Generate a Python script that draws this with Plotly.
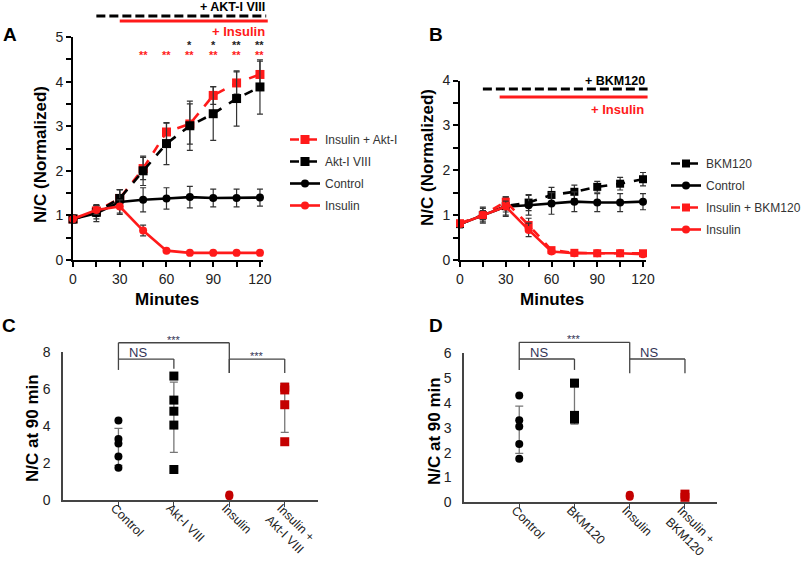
import plotly.graph_objects as go

W, H = 805, 561
FONT = "Liberation Sans, Arial, sans-serif"
RED = "#ff1a1a"
DRED = "#c40000"

# ---------------- data ----------------
minutes = [0, 15, 30, 45, 60, 75, 90, 105, 120]
x_tick_vals = [0, 15, 30, 45, 60, 75, 90, 105, 120]
x_tick_text = ["0", "", "30", "", "60", "", "90", "", "120"]

A_ins_akt = [0.92, 1.10, 1.38, 2.05, 2.87, 3.05, 3.69, 3.97, 4.16]
A_ins_akt_err = [0.08, 0.12, 0.20, 0.25, 0.20, 0.45, 0.20, 0.25, 0.30]
A_akt = [0.92, 1.07, 1.38, 2.00, 2.61, 3.01, 3.28, 3.62, 3.88]
A_akt_err = [0.08, 0.15, 0.20, 0.33, 0.47, 0.55, 0.60, 0.62, 0.61]
A_ctrl = [0.92, 1.05, 1.30, 1.35, 1.38, 1.41, 1.39, 1.39, 1.40]
A_ctrl_err = [0.08, 0.19, 0.28, 0.27, 0.24, 0.24, 0.20, 0.20, 0.19]
A_ins = [0.92, 1.12, 1.20, 0.66, 0.21, 0.16, 0.16, 0.16, 0.16]
A_ins_err = [0.08, 0.10, 0.15, 0.12, 0.03, 0.02, 0.02, 0.02, 0.02]
A_star_black = ["", "", "", "", "", "*", "*", "**", "**"]
A_star_red = ["", "", "", "**", "**", "**", "**", "**", "**"]

B_bkm = [0.80, 1.00, 1.20, 1.28, 1.45, 1.52, 1.63, 1.70, 1.80]
B_bkm_err = [0.08, 0.15, 0.20, 0.18, 0.17, 0.15, 0.12, 0.14, 0.15]
B_ctrl = [0.80, 1.00, 1.19, 1.22, 1.26, 1.30, 1.28, 1.28, 1.30]
B_ctrl_err = [0.08, 0.18, 0.22, 0.22, 0.24, 0.22, 0.20, 0.20, 0.18]
B_ins_bkm = [0.82, 1.00, 1.30, 0.78, 0.22, 0.16, 0.15, 0.15, 0.15]
B_ins_bkm_err = [0.05, 0.10, 0.10, 0.15, 0.05, 0.03, 0.03, 0.03, 0.03]
B_ins = [0.80, 1.00, 1.19, 0.67, 0.19, 0.15, 0.15, 0.15, 0.13]
B_ins_err = [0.05, 0.10, 0.12, 0.15, 0.04, 0.03, 0.03, 0.03, 0.03]

C_cats = ["Control", "Akt-I VIII", "Insulin", "Insulin +<br>Akt-I VIII"]
C_ctrl = [4.3, 3.3, 3.05, 2.35, 1.75]
C_akt = [6.7, 5.4, 4.8, 4.05, 1.65]
C_ins = [0.2, 0.3]
C_ins_akt = [6.1, 5.95, 5.15, 3.15]
C_mean = [2.87, 4.47, 0.25, 4.98]
C_sd = [1.00, 1.90, 0.0, 1.32]

D_cats = ["Control", "BKM120", "Insulin", "Insulin +<br>BKM120"]
D_ctrl = [4.3, 3.3, 3.05, 2.35, 1.75]
D_bkm = [4.8, 3.5, 3.35]
D_ins = [0.22, 0.3]
D_ins_bkm = [0.2, 0.33]
D_mean = [2.92, 3.90, 0.26, 0.26]
D_sd = [0.95, 0.75, 0.0, 0.0]

# brackets: (from cat, to cat, bar level, left leg end, right leg end, label)
C_brackets = [(0, 2, 8.5, 7.62, 6.86, "***"), (0, 1, 7.62, 7.03, 7.10, "NS"), (2, 3, 7.62, 6.86, 6.86, "***")]
D_brackets = [(0, 2, 6.44, 5.77, 5.77, "***"), (0, 1, 5.77, 5.33, 5.33, "NS"), (2, 3, 5.77, 5.20, 5.20, "NS")]

# ---------------- layout geometry ----------------
def xd(a, b):
    return [a / W, b / W]

def yd(top, bottom):
    return [1 - bottom / H, 1 - top / H]

rngA_x, rngA_y = [0, 122], [0, 5]
rngB_x, rngB_y = [0, 122], [0, 4]
rngC_x, rngC_y = [-1, 3.6], [0, 8]
rngD_x, rngD_y = [-1, 3.58], [0, 6]

fig = go.Figure()

def line_trace(x, y, err, name, color, dash, symbol, xa, ya, legend, size=9):
    fig.add_trace(go.Scatter(
        x=x, y=y, name=name, mode="lines+markers", xaxis=xa, yaxis=ya, legend=legend,
        legendgroup=name + legend,
        line=dict(color=color, width=2.6, dash=dash),
        marker=dict(color=color, symbol=symbol, size=size),
        error_y=dict(type="data", array=err, color="#333333", thickness=1.2, width=3),
        cliponaxis=False,
    ))

# Panel A
line_trace(minutes, A_ins_akt, A_ins_akt_err, "Insulin + Akt-I", RED, "dash", "square", "x", "y", "legend", 9)
line_trace(minutes, A_akt, A_akt_err, "Akt-I VIII", "black", "dash", "square", "x", "y", "legend", 9)
line_trace(minutes, A_ctrl, A_ctrl_err, "Control", "black", "solid", "circle", "x", "y", "legend", 8)
line_trace(minutes, A_ins, A_ins_err, "Insulin", RED, "solid", "circle", "x", "y", "legend", 8)

# Panel B
line_trace(minutes, B_bkm, B_bkm_err, "BKM120", "black", "dash", "square", "x2", "y2", "legend2", 8)
line_trace(minutes, B_ctrl, B_ctrl_err, "Control", "black", "solid", "circle", "x2", "y2", "legend2", 8)
line_trace(minutes, B_ins_bkm, B_ins_bkm_err, "Insulin + BKM120", RED, "dash", "square", "x2", "y2", "legend2", 8)
line_trace(minutes, B_ins, B_ins_err, "Insulin", RED, "solid", "circle", "x2", "y2", "legend2", 8)

# Panels C and D: scatter of individual points + mean +/- SD bars
def dots(vals, idx, color, symbol, xa, ya, size):
    fig.add_trace(go.Scatter(
        x=[idx] * len(vals), y=vals, mode="markers", xaxis=xa, yaxis=ya, showlegend=False,
        marker=dict(color=color, symbol=symbol, size=size), cliponaxis=False,
    ))

def sd_bars(means, sds, xa, ya):
    fig.add_trace(go.Scatter(
        x=list(range(len(means))), y=means, mode="markers", xaxis=xa, yaxis=ya, showlegend=False,
        marker=dict(color="rgba(0,0,0,0)", size=1),
        error_y=dict(type="data", array=sds, color="#777777", thickness=1.3, width=4),
        cliponaxis=False,
    ))

sd_bars(C_mean, C_sd, "x3", "y3")
dots(C_ctrl, 0, "black", "circle", "x3", "y3", 8)
dots(C_akt, 1, "black", "square", "x3", "y3", 9)
dots(C_ins, 2, DRED, "circle", "x3", "y3", 8)
dots(C_ins_akt, 3, DRED, "square", "x3", "y3", 9)

sd_bars(D_mean, D_sd, "x4", "y4")
dots(D_ctrl, 0, "black", "circle", "x4", "y4", 8)
dots(D_bkm, 1, "black", "square", "x4", "y4", 9)
dots(D_ins, 2, DRED, "circle", "x4", "y4", 8)
dots(D_ins_bkm, 3, DRED, "square", "x4", "y4", 9)

# ---------------- axes ----------------
tickfont = dict(family=FONT, size=14, color="#222222")
time_x = dict(range=rngA_x, tickvals=x_tick_vals, ticktext=x_tick_text, ticks="outside", ticklen=5,
              tickwidth=1.5, tickcolor="black", showline=True, linecolor="black", linewidth=2,
              showgrid=False, zeroline=False, tickfont=tickfont)
cat_x = dict(tickangle=45, ticks="outside", ticklen=5, tickcolor="#444", showline=True,
             linecolor="#444", linewidth=1.5, showgrid=False, zeroline=False,
             ticklabelstandoff=-11, ticklabelshift=-4,
             tickfont=dict(family=FONT, size=12.5, color="#222"))
fig.update_layout(
    xaxis=dict(time_x, domain=xd(73, 73 + 1.558 * 122), anchor="y"),
    yaxis=dict(range=rngA_y, domain=yd(37, 260), anchor="x",
               tickvals=[i * 0.5 for i in range(11)],
               ticktext=[str(i // 2) if i % 2 == 0 else "" for i in range(11)],
               ticks="outside", ticklen=5, tickwidth=1.5, tickcolor="black", showline=True,
               linecolor="black", linewidth=2, showgrid=False, zeroline=False, tickfont=tickfont),
    xaxis2=dict(time_x, range=rngB_x, domain=xd(460, 460 + 1.525 * 122), anchor="y2"),
    yaxis2=dict(range=rngB_y, domain=yd(80.5, 260), anchor="x2",
                tickvals=[i * 0.5 for i in range(9)],
                ticktext=[str(i // 2) if i % 2 == 0 else "" for i in range(9)],
                ticks="outside", ticklen=5, tickwidth=1.5, tickcolor="black", showline=True,
                linecolor="black", linewidth=2, showgrid=False, zeroline=False, tickfont=tickfont),
    xaxis3=dict(cat_x, range=rngC_x, domain=xd(63, 318), anchor="y3", tickvals=list(range(4)), ticktext=C_cats),
    yaxis3=dict(range=rngC_y, domain=yd(352, 500), anchor="x3", tickvals=[0, 2, 4, 6, 8],
                ticks="outside", ticklen=8, tickcolor="rgba(0,0,0,0)", showline=True, linecolor="#444",
                linewidth=1.5, showgrid=False, zeroline=False, tickfont=tickfont),
    xaxis4=dict(cat_x, range=rngD_x, domain=xd(464, 717), anchor="y4", tickvals=list(range(4)), ticktext=D_cats),
    yaxis4=dict(range=rngD_y, domain=yd(353.3, 502.3), anchor="x4", tickvals=[0, 1, 2, 3, 4, 5, 6],
                ticks="outside", ticklen=8, tickcolor="rgba(0,0,0,0)", showline=True, linecolor="#444",
                linewidth=1.5, showgrid=False, zeroline=False, tickfont=tickfont),
)

legend_common = dict(xanchor="left", yanchor="top", bgcolor="rgba(0,0,0,0)", tracegroupgap=3,
                      font=dict(family=FONT, size=12, color="#333333"), itemwidth=30)
fig.update_layout(
    legend=dict(legend_common, x=285 / W, y=1 - 125 / H),
    legend2=dict(legend_common, x=666 / W, y=1 - 149 / H),
)

# ---------------- decorations ----------------
def dom(v, rng):
    return (v - rng[0]) / (rng[1] - rng[0])

shapes = []
annotations = []

def hline(xa, ya, x0, x1, y, rx, ry, color, width, dash="solid"):
    shapes.append(dict(type="line", xref=xa + " domain", yref=ya + " domain",
                       x0=dom(x0, rx), x1=dom(x1, rx), y0=dom(y, ry), y1=dom(y, ry),
                       line=dict(color=color, width=width, dash=dash)))

def seg(xa, ya, x0, y0, x1, y1, rx, ry, color="#444444", width=1.3):
    shapes.append(dict(type="line", xref=xa + " domain", yref=ya + " domain",
                       x0=dom(x0, rx), x1=dom(x1, rx), y0=dom(y0, ry), y1=dom(y1, ry),
                       line=dict(color=color, width=width)))

def text(xa, ya, x, y, s, color, size, rx, ry, bold=True, xanchor="center"):
    annotations.append(dict(xref=xa + " domain", yref=ya + " domain", x=dom(x, rx), y=dom(y, ry),
                            text=("<b>%s</b>" % s) if bold else s,
                            showarrow=False, xanchor=xanchor, yanchor="middle", borderpad=0,
                            font=dict(family=FONT, size=size, color=color)))

# Panel A treatment bars
hline("x", "y", 15, 124, 5.47, rngA_x, rngA_y, "black", 3, "9px,4px")
hline("x", "y", 30, 125, 5.36, rngA_x, rngA_y, RED, 3)
text("x", "y", 124, 5.67, "+ AKT-I VIII", "black", 12.5, rngA_x, rngA_y, xanchor="right")
text("x", "y", 124, 5.13, "+ Insulin", RED, 13, rngA_x, rngA_y, xanchor="right")
for t, s in zip(minutes, A_star_black):
    if s:
        text("x", "y", t, 4.81, s, "#222222", 11, rngA_x, rngA_y)
for t, s in zip(minutes, A_star_red):
    if s:
        text("x", "y", t, 4.60, s, RED, 11, rngA_x, rngA_y)

# Panel B treatment bars
hline("x2", "y2", 15, 123, 3.81, rngB_x, rngB_y, "black", 3, "9px,4px")
hline("x2", "y2", 26, 123, 3.63, rngB_x, rngB_y, RED, 3)
text("x2", "y2", 122, 4.0, "+ BKM120", "black", 12.5, rngB_x, rngB_y, xanchor="right")
text("x2", "y2", 121, 3.36, "+ Insulin", RED, 13, rngB_x, rngB_y, xanchor="right")

# Brackets C / D
def brackets(xa, ya, lst, rx, ry):
    for (a, b, yb, yl, yr, lab) in lst:
        seg(xa, ya, a, yb, b, yb, rx, ry)
        seg(xa, ya, a, yb, a, yl, rx, ry)
        seg(xa, ya, b, yb, b, yr, rx, ry)
        is_ns = lab == "NS"
        cx = (a + b) / 2 - (0.15 if is_ns else 0)
        off = (ry[1] - ry[0]) * (0.045 if is_ns else 0.02)
        annotations.append(dict(xref=xa + " domain", yref=ya + " domain", x=dom(cx, rx), y=dom(yb + off, ry),
                                text=lab, showarrow=False, xanchor="center", yanchor="middle",
                                font=dict(family=FONT, size=13 if is_ns else 11, color="#333355")))

brackets("x3", "y3", C_brackets, rngC_x, rngC_y)
brackets("x4", "y4", D_brackets, rngD_x, rngD_y)

# Titles and panel letters (paper coordinates)
def ptext(x, y, s, size, angle=0):
    annotations.append(dict(xref="paper", yref="paper", x=x / W, y=1 - y / H, text="<b>%s</b>" % s,
                            showarrow=False, xanchor="center", yanchor="middle", textangle=angle,
                            font=dict(family=FONT, size=size, color="black")))

ptext(10, 35, "A", 19)
ptext(436, 35, "B", 19)
ptext(9, 325, "C", 19)
ptext(436, 325, "D", 19)
ptext(40, 155, "N/C (Normalized)", 17, -90)
ptext(428, 157, "N/C (Normalized)", 17, -90)
ptext(167, 299, "Minutes", 17)
ptext(552, 299, "Minutes", 17)
ptext(32, 428, "N/C at 90 min", 17, -90)
ptext(434, 431, "N/C at 90 min", 17, -90)

fig.update_layout(
    width=W, height=H, margin=dict(l=0, r=0, t=0, b=0, autoexpand=False),
    paper_bgcolor="white", plot_bgcolor="white",
    font=dict(family=FONT), shapes=shapes, annotations=annotations,
)

fig.write_html("out.html", config={"displayModeBar": False},
               post_script="document.body.style.margin='0px';")
